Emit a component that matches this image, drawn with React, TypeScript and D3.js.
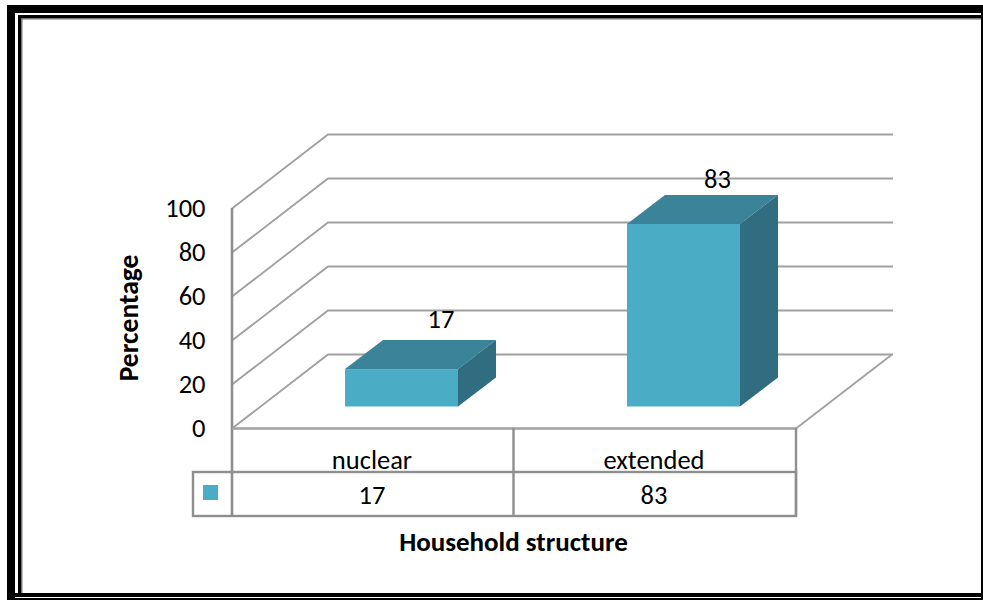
import React from "react";
import * as d3 from "d3";

const categories = ["nuclear", "extended"];
const seriesValues = [17, 83];
const valueTicks = [0, 20, 40, 60, 80, 100];
const axisTitleX = "Household structure";
const axisTitleY = "Percentage";

const FONT = "Carlito, 'Open Sans', 'Noto Sans', sans-serif";
const GRID = "#a0a0a0";
const TABLE = "#8e8e8e";

export default function App() {
  const y = d3.scaleLinear().domain([0, 100]).range([428.5, 208.5]);
  const band = d3.scaleBand<string>().domain(categories).range([232, 796]);
  const dx = 96, dy = -74;
  const backY = (v: number) => y(v) + dy;
  const barLift = -22;
  const barD = { x: 38, y: -29 };
  const barW = 113;
  const base = y(0) + barLift;
  const pts = (a: [number, number][]) => a.map((p) => p.join(",")).join(" ");
  return (
    <svg width={983} height={600} style={{ position: "absolute", left: 0, top: 0 }}>
      <rect width={983} height={600} fill="#fff" />
      {/* frame */}
      <rect x={7} y={5} width={976} height={8} fill="#000" />
      <rect x={7} y={5} width={8} height={595} fill="#000" />
      <rect x={18} y={15} width={965} height={3} fill="#000" />
      <rect x={18} y={15} width={3} height={578} fill="#000" />
      <rect x={21} y={18} width={960} height={1.5} fill="#777" />
      <rect x={21} y={18} width={1.5} height={575} fill="#777" />
      <rect x={981} y={13} width={2} height={587} fill="#000" />
      <rect x={7} y={593} width={976} height={4} fill="#000" />
      <rect x={7} y={598} width={976} height={2} fill="#000" />

      {/* walls and floor */}
      {valueTicks.map((t) => (
        <polyline
          key={t}
          points={pts([[232, y(t)], [232 + dx, backY(t)], [893, backY(t)]])}
          fill="none"
          stroke={GRID}
          strokeWidth={1.8}
        />
      ))}
      <line x1={232} x2={232} y1={208} y2={516} stroke={TABLE} strokeWidth={2.6} />
      <line x1={232} x2={796} y1={428.5} y2={428.5} stroke={GRID} strokeWidth={2.4} />
      <line x1={796} x2={892} y1={428.5} y2={354.5} stroke={GRID} strokeWidth={1.8} />

      {/* bars */}
      {seriesValues.map((v, i) => {
        const c = (band(categories[i]) as number) + band.bandwidth() / 2;
        const x0 = c - 28;
        const yTop = y(v) + barLift;
        return (
          <g key={categories[i]}>
            <rect x={x0} y={yTop} width={barW} height={base - yTop} fill="#4bacc6" />
            <polygon
              points={pts([[x0, yTop], [x0 + barD.x, yTop + barD.y], [x0 + barW + barD.x, yTop + barD.y], [x0 + barW, yTop]])}
              fill="#3b8399"
            />
            <polygon
              points={pts([[x0 + barW, yTop], [x0 + barW + barD.x, yTop + barD.y], [x0 + barW + barD.x, base + barD.y], [x0 + barW, base]])}
              fill="#316d80"
            />
            <text x={c + (i === 0 ? 68 : 62.5)} y={yTop + (i === 0 ? -41 : -36)} textAnchor="middle" fontFamily={FONT} fontSize={26.5} fill="#000">
              {v}
            </text>
          </g>
        );
      })}

      {/* value axis labels */}
      {valueTicks.map((t) => (
        <text key={t} x={205.5} y={y(t) + 8.5} textAnchor="end" fontFamily={FONT} fontSize={26.5} fill="#000">
          {t}
        </text>
      ))}

      {/* data table */}
      <rect x={193} y={472} width={603} height={44} fill="none" stroke={TABLE} strokeWidth={2.4} />
      <line x1={796} x2={796} y1={428} y2={516} stroke={TABLE} strokeWidth={2.4} />
      <line x1={513.5} x2={513.5} y1={428} y2={516} stroke={TABLE} strokeWidth={2.4} />
      <rect x={203} y={485} width={15} height={15} fill="#4bacc6" />
      {categories.map((c, i) => {
        const cx = (band(c) as number) + band.bandwidth() / 2;
        return (
          <g key={c} fontFamily={FONT} fontSize={26.5} fill="#000" textAnchor="middle">
            <text x={cx - 1} y={468.5}>{c}</text>
            <text x={cx - 1} y={504}>{seriesValues[i]}</text>
          </g>
        );
      })}

      {/* axis titles */}
      <text x={513.5} y={551} textAnchor="middle" fontFamily={FONT} fontSize={27} fontWeight={700} fill="#000">
        {axisTitleX}
      </text>
      <text transform="translate(138,318) rotate(-90)" textAnchor="middle" fontFamily={FONT} fontSize={27.5} fontWeight={700} fill="#000">
        {axisTitleY}
      </text>
    </svg>
  );
}
